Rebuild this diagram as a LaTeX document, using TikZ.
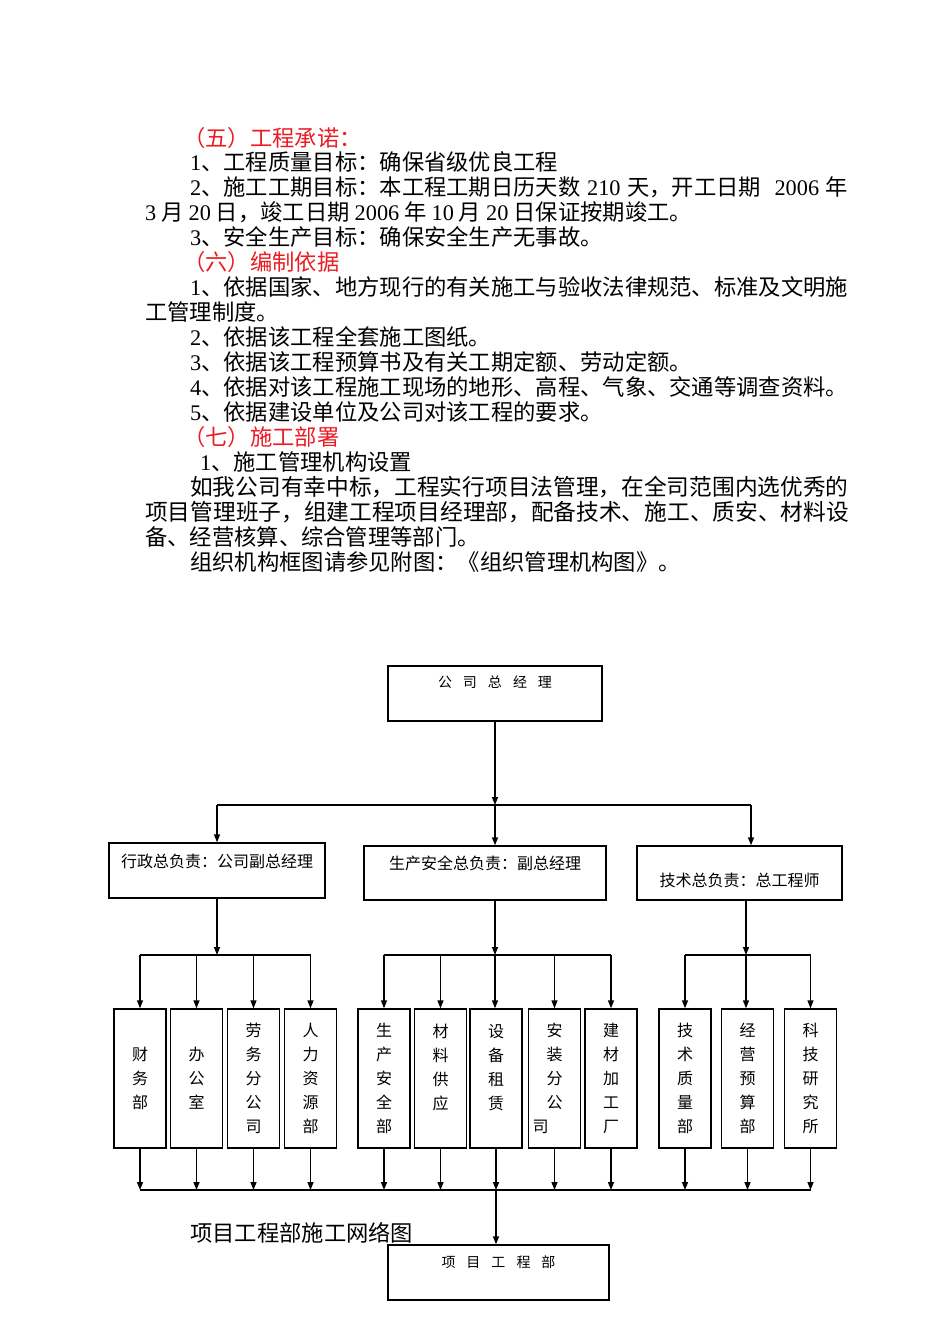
\documentclass[tikz,border=0pt]{standalone}
\usepackage{fontspec}
\setmainfont{Noto Sans CJK SC}
\newfontfamily\latinfont{Liberation Serif}
\usetikzlibrary{arrows.meta}
\definecolor{hdred}{RGB}{235,28,36}
\newcommand{\nm}[1]{{\latinfont #1}}
\newcommand{\kg}{\hspace{11pt}}

\begin{document}
\begin{tikzpicture}[x=1pt,y=-1pt,>={Triangle[length=8pt,width=6pt]},
    txt/.style={anchor=base west,inner sep=0pt,font=\fontsize{22.3}{25}\selectfont},
    wide/.style={txt,font=\fontsize{22.7}{25}\selectfont},
    hd/.style={txt,text=hdred},
    box/.style={draw,line width=1.4pt,inner xsep=4pt,inner ysep=0pt,font=\fontsize{16}{20}\selectfont},
    ttl/.style={box,font=\fontsize{14}{18}\selectfont},
    tall/.style={draw,line width=1.4pt,minimum width=52pt,minimum height=139pt,inner sep=0pt,align=center,font=\fontsize{16}{24}\selectfont},
    link/.style={line width=1.4pt}]

\path[fill=white,use as bounding box] (0,0) rectangle (950,1344);

% Text above the chart
\node[hd] (s5) at (183,146) {（五）工程承诺：};
\node[txt] (l1) at (190,170) {\nm{1}、工程质量目标：确保省级优良工程};
\node[txt] (l2) at (190,195) {\makebox[658pt][s]{\nm{2}、施工工期目标：本工程工期日历天数 \nm{210} 天，开工日期 \ \nm{2006} 年}};
\node[txt] (l3) at (145,220) {\nm{3} 月 \nm{20} 日，竣工日期 \nm{2006} 年 \nm{10} 月 \nm{20} 日保证按期竣工。};
\node[txt] (l4) at (190,245) {\nm{3}、安全生产目标：确保安全生产无事故。};
\node[hd] (s6) at (183,270) {（六）编制依据};
\node[txt] (l5) at (190,295) {\nm{1}、依据国家、地方现行的有关施工与验收法律规范、标准及文明施};
\node[txt] (l6) at (145,320) {工管理制度。};
\node[txt] (l7) at (190,345) {\nm{2}、依据该工程全套施工图纸。};
\node[txt] (l8) at (190,370) {\nm{3}、依据该工程预算书及有关工期定额、劳动定额。};
\node[txt] (l9) at (190,395) {\nm{4}、依据对该工程施工现场的地形、高程、气象、交通等调查资料。};
\node[txt] (l10) at (190,420) {\nm{5}、依据建设单位及公司对该工程的要求。};
\node[hd] (s7) at (183,445) {（七）施工部署};
\node[txt] (l11) at (200,470) {\nm{1}、施工管理机构设置};
\node[wide] (l12) at (190,495) {如我公司有幸中标，工程实行项目法管理，在全司范围内选优秀的};
\node[wide] (l13) at (145,520) {项目管理班子，组建工程项目经理部，配备技术、施工、质安、材料设};
\node[txt] (l14) at (145,545) {备、经营核算、综合管理等部门。};
\node[txt] (l15) at (190,570) {组织机构框图请参见附图：《组织管理机构图》。};

% Top of the chart
\node[ttl,minimum width=214pt,text height=21pt,text depth=34pt] (gm) at (495,693.5) {公\kg 司\kg 总\kg 经\kg 理};

% Second level
\node[box,minimum width=216pt,text height=24pt,text depth=31pt] (admin) at (217,870.5) {行政总负责：公司副总经理};
\node[box,minimum width=242pt,text height=23pt,text depth=31pt] (prod) at (485,873) {生产安全总负责：副总经理};
\node[box,minimum width=205pt,text height=40pt,text depth=14pt] (tech) at (739.5,873) {技术总负责：总工程师};

% Departments
\node[tall] (fin) at (140,1078.5) {财\\务\\部};
\node[tall] (off) at (196.5,1078.5) {办\\公\\室};
\node[tall] (lab) at (253.5,1078.5) {劳\\务\\分\\公\\司};
\node[tall] (hr) at (310.5,1078.5) {人\\力\\资\\源\\部};
\node[tall] (safe) at (384,1078.5) {生\\产\\安\\全\\部};
\node[tall] (mat) at (440.5,1078.5) {材\\料\\供\\应\\~};
\node[tall] (equ) at (496,1078.5) {设\\备\\租\\赁\\~};
\node[tall] (ins) at (554.5,1078.5) {安\\装\\分\\公\\\makebox[44pt][l]{司}};
\node[tall] (bld) at (611,1078.5) {建\\材\\加\\工\\厂};
\node[tall] (qual) at (685,1078.5) {技\\术\\质\\量\\部};
\node[tall] (bud) at (747.5,1078.5) {经\\营\\预\\算\\部};
\node[tall] (res) at (810.5,1078.5) {科\\技\\研\\究\\所};

% Project department
\node[txt] (cap) at (190,1241) {项目工程部施工网络图};
\node[ttl,minimum width=221pt,text height=22pt,text depth=33pt] (proj) at (498.5,1272.5) {项\kg 目\kg 工\kg 程\kg 部};

% Connections, first level
\coordinate (h0) at (495,805);
\coordinate (hL) at (217,805);
\coordinate (hR) at (751,805);
\draw[link,->] (gm) -- (h0);
\draw[link] (hL) -- (hR);
\draw[link,->] (hL) -- (admin);
\draw[link,->] (h0) -- (h0 |- prod.north);
\draw[link,->] (hR) -- (hR |- tech.north);

% Connections, administration
\coordinate (g1) at (217,955);
\draw[link,->] (admin) -- (g1);
\draw[link] (fin.north |- g1) -- (hr.north |- g1);
\draw[link,->] (fin.north |- g1) -- (fin);
\draw[link,->] (off.north |- g1) -- (off);
\draw[link,->] (lab.north |- g1) -- (lab);
\draw[link,->] (hr.north |- g1) -- (hr);

% Connections, production
\coordinate (g2) at (495,955);
\draw[link,->] (g2 |- prod.south) -- (g2);
\draw[link] (safe.north |- g2) -- (bld.north |- g2);
\draw[link,->] (safe.north |- g2) -- (safe);
\draw[link,->] (mat.north |- g2) -- (mat);
\draw[link,->] (g2) -- (g2 |- equ.north);
\draw[link,->] (ins.north |- g2) -- (ins);
\draw[link,->] (bld.north |- g2) -- (bld);

% Connections, technology
\coordinate (g3) at (746,955);
\draw[link,->] (g3 |- tech.south) -- (g3);
\draw[link] (qual.north |- g3) -- (res.north |- g3);
\draw[link,->] (qual.north |- g3) -- (qual);
\draw[link,->] (g3) -- (g3 |- bud.north);
\draw[link,->] (res.north |- g3) -- (res);

% Connections to the project department
\coordinate (bus) at (496,1190);
\draw[link] (fin.south |- bus) -- (res.south |- bus);
\draw[link,->] (fin) -- (fin.south |- bus);
\draw[link,->] (off) -- (off.south |- bus);
\draw[link,->] (lab) -- (lab.south |- bus);
\draw[link,->] (hr) -- (hr.south |- bus);
\draw[link,->] (safe) -- (safe.south |- bus);
\draw[link,->] (mat) -- (mat.south |- bus);
\draw[link,->] (equ) -- (bus);
\draw[link,->] (ins) -- (ins.south |- bus);
\draw[link,->] (bld) -- (bld.south |- bus);
\draw[link,->] (qual) -- (qual.south |- bus);
\draw[link,->] (bud) -- (bud.south |- bus);
\draw[link,->] (res) -- (res.south |- bus);
\draw[link,->] (bus) -- (bus |- proj.north);
\end{tikzpicture}
\end{document}
